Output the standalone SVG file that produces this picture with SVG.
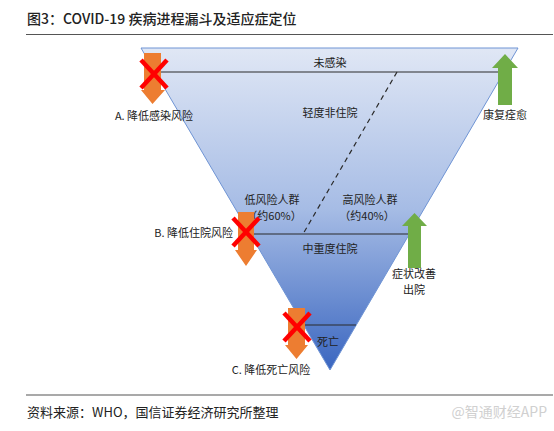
<svg xmlns="http://www.w3.org/2000/svg" width="554" height="431" viewBox="0 0 554 431">
<defs>
<linearGradient id="funnel" x1="0" y1="48" x2="0" y2="370" gradientUnits="userSpaceOnUse">
<stop offset="0" stop-color="#e0e7f5"/>
<stop offset="0.5" stop-color="#a6bce5"/>
<stop offset="1" stop-color="#3a66c0"/>
</linearGradient>
<style>
text{font-family:"Noto Sans CJK SC","Liberation Sans",sans-serif;fill:#222;}
.lbl{font-size:11px;text-anchor:middle;}
.orange{fill:#ed7d31;}
.green{fill:#70ad47;}
.x{stroke:#ff0000;stroke-width:4.5;stroke-linecap:butt;fill:none;}
.div{stroke:#2b2b2b;stroke-width:1.2;fill:none;}
.rule{stroke:#555;stroke-width:1.2;}
</style>
</defs>
<rect width="554" height="431" fill="#fff"/>
<text x="27" y="24" style="font-size:14px;font-weight:500;">图3：COVID-19 疾病进程漏斗及适应症定位</text>
<line class="rule" x1="26" y1="34.5" x2="553" y2="34.5"/>

<g id="funnel-shape">
<polygon points="141,48 518,48 330,370" fill="url(#funnel)" stroke="#6f94d4" stroke-width="1"/>
</g>

<g id="connectors">
<line class="div" x1="155" y1="72" x2="504" y2="72"/>
<line class="div" x1="397" y1="72" x2="303" y2="234" stroke-dasharray="5,4"/>
<line class="div" x1="250" y1="234" x2="410" y2="234"/>
<line class="div" x1="304" y1="325" x2="356" y2="325"/>
</g>

<g id="uninfected"><text class="lbl" x="330" y="67">未感染</text></g>
<g id="mild"><text class="lbl" x="330" y="117">轻度非住院</text></g>
<g id="low-risk"><text class="lbl" x="272" y="204">低风险人群</text><text class="lbl" x="274" y="220">（约60%）</text></g>
<g id="high-risk"><text class="lbl" x="370" y="204">高风险人群</text><text class="lbl" x="367" y="220">（约40%）</text></g>
<g id="severe"><text class="lbl" x="330" y="253">中重度住院</text></g>
<g id="death"><text class="lbl" x="328" y="346">死亡</text></g>

<g id="arrow-a">
<polygon class="orange" points="144,53 161,53 161,90 165,90 152.5,104 141,90 144,90"/>
<line class="x" x1="141" y1="60" x2="167" y2="88"/><line class="x" x1="167" y1="60" x2="141" y2="88"/>
<text class="lbl" x="154" y="120">A. 降低感染风险</text>
</g>
<g id="arrow-b">
<polygon class="orange" points="238,212 254,212 254,250 257,250 246,266 235,250 238,250"/>
<line class="x" x1="233" y1="218" x2="259" y2="246"/><line class="x" x1="259" y1="218" x2="233" y2="246"/>
<text class="lbl" x="233" y="237" style="text-anchor:end">B. 降低住院风险</text>
</g>
<g id="arrow-c">
<polygon class="orange" points="288,308 305,308 305,345 308,345 296.5,359 285,345 288,345"/>
<line class="x" x1="284" y1="313" x2="310" y2="341"/><line class="x" x1="310" y1="313" x2="284" y2="341"/>
<text class="lbl" x="271" y="374">C. 降低死亡风险</text>
</g>
<g id="recover">
<polygon class="green" points="505,54 518,68 512,68 512,105 498,105 498,68 492,68"/>
<text class="lbl" x="505" y="119">康复痊愈</text>
</g>
<g id="discharge">
<polygon class="green" points="414.5,213 427,226 421,226 421,268 408,268 408,226 402,226"/>
<text class="lbl" x="414" y="278">症状改善</text>
<text class="lbl" x="414" y="294">出院</text>
</g>

<line class="rule" x1="26" y1="395" x2="553" y2="395"/>
<text x="27" y="417" style="font-size:13px;">资料来源：WHO，国信证券经济研究所整理</text>
<text x="547" y="417" style="font-size:14px;fill:#d0d0d0;text-anchor:end;">@智通财经APP</text>
</svg>
